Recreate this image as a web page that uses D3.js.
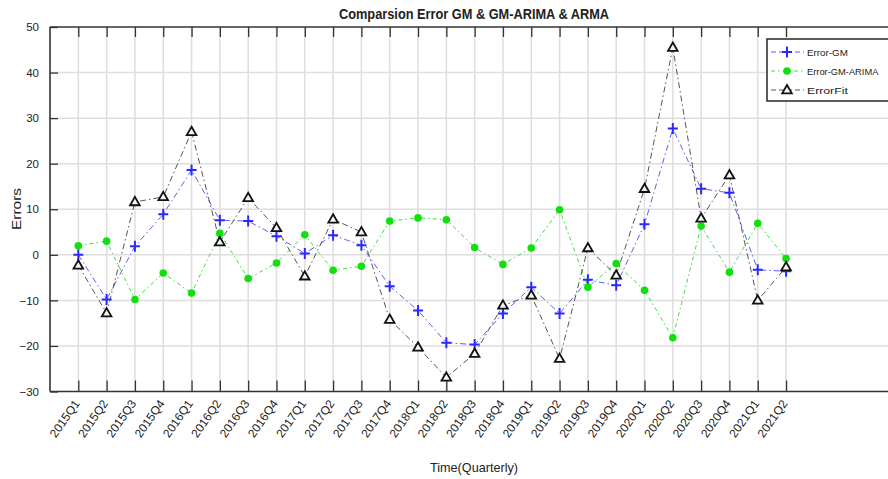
<!DOCTYPE html>
<html>
<head>
<meta charset="utf-8">
<script src="https://cdn.jsdelivr.net/npm/d3@7"></script>
<style>
  body { margin: 0; background: #fff; }
  text { font-family: "Liberation Sans Narrow", "Arial Narrow", "Liberation Sans", sans-serif; fill: #222; }
</style>
</head>
<body>
<svg id="chart" width="888" height="479"></svg>
<script>
const quarters = ["2015Q1","2015Q2","2015Q3","2015Q4","2016Q1","2016Q2","2016Q3","2016Q4",
  "2017Q1","2017Q2","2017Q3","2017Q4","2018Q1","2018Q2","2018Q3","2018Q4",
  "2019Q1","2019Q2","2019Q3","2019Q4","2020Q1","2020Q2","2020Q3","2020Q4","2021Q1","2021Q2"];

const errorGM = [0, -9.8, 1.9, 8.9, 18.6, 7.6, 7.4, 4.1, 0.3, 4.3, 2.1, -6.9, -12.2, -19.3, -19.7,
  -12.9, -7.1, -12.9, -5.5, -6.7, 6.7, 27.7, 14.5, 13.6, -3.3, -3.6];
const errorGMARIMA = [2, 3, -9.8, -4, -8.4, 4.7, -5.2, -1.8, 4.4, -3.4, -2.5, 7.4, 8.1, 7.7, 1.6,
  -2.1, 1.5, 9.9, -7.1, -1.9, -7.8, -18.2, 6.3, -3.8, 6.9, -0.8];
const errorFit = [-2.3, -12.8, 11.6, 12.7, 27, 2.8, 12.5, 5.9, -4.7, 7.8, 5, -14.2, -20.3, -26.9, -21.7,
  -11.1, -8.9, -22.8, 1.5, -4.5, 14.5, 45.5, 8, 17.5, -10, -2.7];

const yTicks = [50, 40, 30, 20, 10, 0, -10, -20, -30];

const series = [
  { name: "Error-GM", values: errorGM, color: "#2a2aff", line: "#5c5cff", dash: "6,3,1.5,3", marker: "plus" },
  { name: "Error-GM-ARIMA", values: errorGMARIMA, color: "#10e010", line: "#3ae03a", dash: "4,3,1.5,3", marker: "dot" },
  { name: "ErrorFit", values: errorFit, color: "#111", line: "#555", dash: "6,3,1.5,3", marker: "tri" }
];

const svg = d3.select("#chart");
const plotLeft = 50, plotTop = 27, plotBottom = 391.5;
const x = d3.scaleLinear().domain([-1, 30]).range([plotLeft, plotLeft + 31 * 28.31]);
const y = d3.scaleLinear().domain([-30, 50]).range([plotBottom, plotTop]);

// grid
const grid = svg.append("g").attr("stroke", "#dedede").attr("stroke-width", 1.5);
grid.selectAll("line.v").data(quarters).enter().append("line")
  .attr("x1", (d, i) => x(i)).attr("x2", (d, i) => x(i))
  .attr("y1", plotTop).attr("y2", plotBottom);
grid.selectAll("line.h").data(yTicks.filter(t => t > -30 && t < 50)).enter().append("line")
  .attr("x1", plotLeft).attr("x2", 888)
  .attr("y1", d => y(d)).attr("y2", d => y(d));

// axes
const xAxis = svg.append("g").attr("transform", `translate(0,${plotBottom})`)
  .call(d3.axisBottom(x).tickValues(d3.range(quarters.length)).tickSize(-11).tickFormat(""));
const xTop = svg.append("g").attr("transform", `translate(0,${plotTop})`)
  .call(d3.axisTop(x).tickValues(d3.range(quarters.length)).tickSize(-10).tickFormat(""));
const yAxis = svg.append("g").attr("transform", `translate(${plotLeft},0)`)
  .call(d3.axisLeft(y).tickValues(yTicks).tickSize(-8).tickPadding(11));
[xAxis, xTop, yAxis].forEach(g => {
  g.selectAll("path").attr("stroke", "#333").attr("stroke-width", 1.6);
  g.selectAll("line").attr("stroke", "#333").attr("stroke-width", 1.3);
});
yAxis.selectAll("text").style("font-size", "11.5px").attr("fill", "#222");
yAxis.select("path").attr("d", `M0,${plotTop}V${plotBottom}`);
xAxis.select("path").attr("d", `M${plotLeft},0H900`);
xTop.select("path").attr("d", `M${plotLeft},0H900`);

// x labels
svg.append("g").selectAll("text").data(quarters).enter().append("text")
  .attr("transform", (d, i) => `translate(${x(i) + 2},${plotBottom + 12}) rotate(-55)`)
  .attr("text-anchor", "end")
  .style("font-size", "12px")
  .text(d => d);

// lines
const line = d3.line().x((d, i) => x(i)).y(d => y(d));
series.forEach(s => {
  svg.append("path").datum(s.values)
    .attr("fill", "none").attr("stroke", s.line).attr("stroke-width", 1)
    .attr("stroke-dasharray", s.dash).attr("d", line);
});

function drawMarker(g, s, cx, cy) {
  if (s.marker === "plus") {
    g.append("path").attr("d", `M${cx - 5},${cy}H${cx + 5}M${cx},${cy - 5.5}V${cy + 5.5}`)
      .attr("stroke", s.color).attr("stroke-width", 2);
  } else if (s.marker === "dot") {
    g.append("circle").attr("cx", cx).attr("cy", cy).attr("r", 3.8).attr("fill", s.color);
  } else {
    g.append("path").attr("d", d3.symbol(d3.symbolTriangle, 40)())
      .attr("transform", `translate(${cx},${cy + 0.5})`)
      .attr("fill", "#f4f4f4").attr("stroke", s.color).attr("stroke-width", 1.8);
  }
}

series.forEach(s => {
  const g = svg.append("g");
  s.values.forEach((v, i) => drawMarker(g, s, x(i), y(v)));
});

// legend
const lg = svg.append("g");
lg.append("rect").attr("x", 767).attr("y", 39).attr("width", 140).attr("height", 62)
  .attr("fill", "#fff").attr("stroke", "#333").attr("stroke-width", 1.6);
series.forEach((s, i) => {
  const ly = 52 + i * 19;
  lg.append("line").attr("x1", 771).attr("x2", 804).attr("y1", ly).attr("y2", ly)
    .attr("stroke", s.line).attr("stroke-dasharray", s.dash === "4,3,1.5,3" ? "4,3,1.5,3" : "5,3");
  drawMarker(lg, s, 787, ly);
  lg.append("text").attr("x", 807).attr("y", ly + 3.5).style("font-size", "9.5px")
    .attr("textLength", s.name.length * 5.1).attr("lengthAdjust", "spacingAndGlyphs").text(s.name);
});

// titles
svg.append("text").attr("x", 474).attr("y", 19).attr("text-anchor", "middle")
  .style("font-size", "14px").style("font-weight", "bold")
  .attr("textLength", 270).attr("lengthAdjust", "spacingAndGlyphs")
  .text("Comparsion Error GM & GM-ARIMA & ARMA");
svg.append("text").attr("transform", "translate(21,209) rotate(-90)").attr("text-anchor", "middle")
  .style("font-size", "13px").attr("textLength", 42).attr("lengthAdjust", "spacingAndGlyphs").text("Errors");
svg.append("text").attr("x", 474).attr("y", 472).attr("text-anchor", "middle")
  .style("font-size", "13.5px").attr("textLength", 88).attr("lengthAdjust", "spacingAndGlyphs")
  .text("Time(Quarterly)");
</script>
</body>
</html>
